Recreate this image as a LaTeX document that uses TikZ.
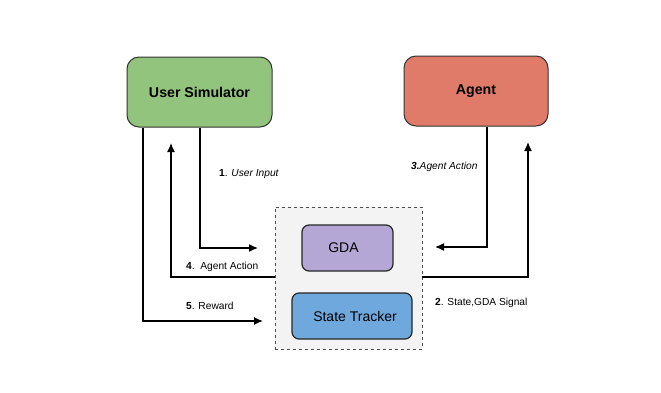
\documentclass[tikz,border=0pt]{standalone}
\usepackage{fontspec}
\setmainfont{Liberation Sans}
\usetikzlibrary{arrows.meta}
\definecolor{simgreen}{HTML}{93C47D}
\definecolor{agentred}{HTML}{E07B6A}
\definecolor{gdapurple}{HTML}{B4A7D6}
\definecolor{stblue}{HTML}{6FA8DC}
\definecolor{boxgrey}{HTML}{F3F3F3}
\definecolor{edgegrey}{HTML}{333333}
\begin{document}
\begin{tikzpicture}[x=1pt,y=-1pt,
  bigbox/.style={draw=edgegrey,line width=1pt,rounded corners=12pt,inner sep=0pt,font=\bfseries\fontsize{14.2}{16}\selectfont},
  smallbox/.style={draw=black!85,line width=1.2pt,rounded corners=7pt,inner sep=0pt,font=\fontsize{14}{16}\selectfont},
  conn/.style={line width=1.4pt,-{Latex[length=9pt,width=8pt]}},
  lbl/.style={font=\fontsize{10.2}{12}\selectfont,inner sep=0pt}]
\useasboundingbox (0,0) rectangle (661,392);
\fill[white] (0,0) rectangle (661,392);
% main boxes
\node[bigbox,fill=simgreen,minimum width=145pt,minimum height=70pt] (sim) at (199.5,92) {User Simulator};
\node[bigbox,fill=agentred,minimum width=144pt,minimum height=70pt] (agent) at (476,91) {Agent};
% container
\node[draw=black!70,dashed,line width=0.7pt,fill=boxgrey,minimum width=147pt,minimum height=142pt,inner sep=0pt] (cont) at (348.5,278) {};
\node[smallbox,fill=gdapurple,minimum width=91pt,minimum height=46pt] (gda) at (347.5,248) {\hspace*{-8pt}GDA};
\node[smallbox,fill=stblue,minimum width=120pt,minimum height=46pt] (st) at (352,316) {\hspace*{6pt}State Tracker};
% coordinates
\coordinate (a1) at (200,248);
\coordinate (t1) at (258,248);
\coordinate (a4) at (171,277);
\coordinate (t4) at (171,143);
\coordinate (a5) at (143,321);
\coordinate (t5) at (263,321);
\coordinate (a3) at (487,247);
\coordinate (t3) at (435,247);
\coordinate (a2) at (528,277);
\coordinate (t2) at (528,142);
% connectors
\draw[conn] (sim.south -| a1) -- (a1) -- (t1);
\draw[conn] (cont.west |- a4) -- (a4) -- (t4);
\draw[conn] (sim.south -| a5) -- (a5) -- (t5);
\draw[conn] (agent.south -| a3) -- (a3) -- (t3);
\draw[conn] (cont.east |- a2) -- (a2) -- (t2);
% labels
\node[lbl,anchor=west] (l1) at (219,174) {\textbf{1}. \textit{User Input}};
\node[lbl,anchor=west] (l3) at (411,167) {\textbf{\textit{3.}}\textit{Agent Action}};
\node[lbl,anchor=west] (l4) at (186,267) {\textbf{4}.\ \ Agent Action};
\node[lbl,anchor=west] (l5) at (186,306) {\textbf{5}. Reward};
\node[lbl,anchor=west] (l2) at (435,303) {\textbf{2}. State,GDA Signal};
\end{tikzpicture}
\end{document}
